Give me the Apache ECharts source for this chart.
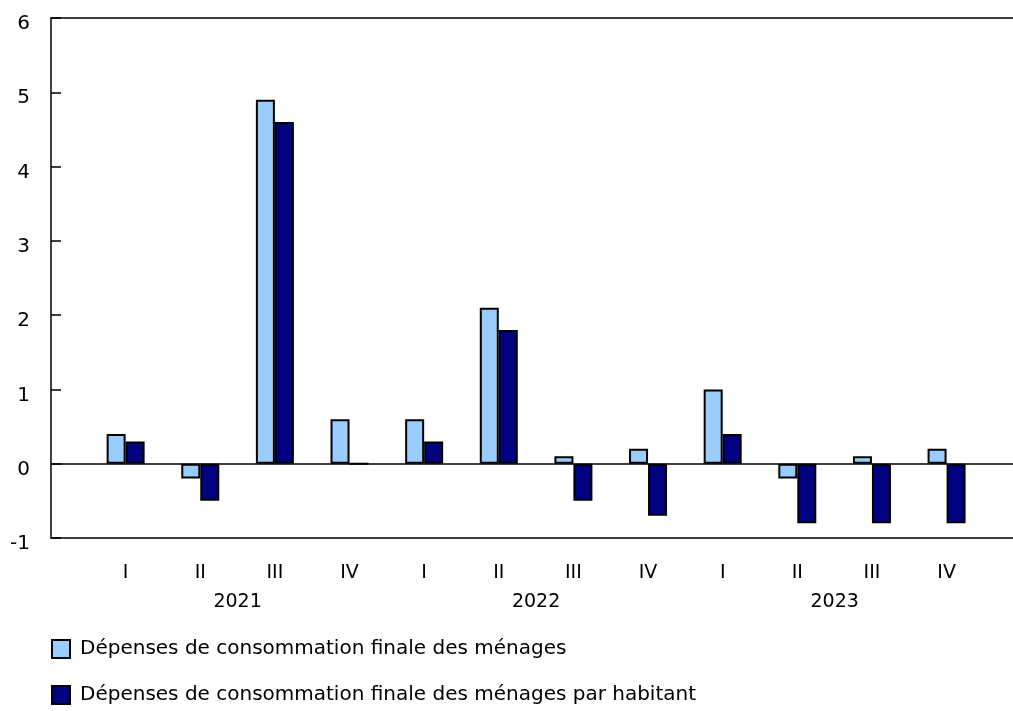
<!DOCTYPE html>
<html>
<head>
<meta charset="utf-8">
<script src="https://cdn.jsdelivr.net/npm/echarts@6/dist/echarts.min.js"></script>
<style>
  html, body { margin: 0; padding: 0; background: #ffffff; }
  #chart { width: 1013px; height: 711px; }
</style>
</head>
<body>
<div id="chart"></div>
<script>
const quarters = ["I", "II", "III", "IV", "I", "II", "III", "IV", "I", "II", "III", "IV"];
const years = ["2021", "2022", "2023"];
const yearPositions = [1.5, 5.5, 9.5];
const seriesNames = [
  "Dépenses de consommation finale des ménages",
  "Dépenses de consommation finale des ménages par habitant",
];
const menages = [0.4, -0.2, 4.9, 0.6, 0.6, 2.1, 0.1, 0.2, 1.0, -0.2, 0.1, 0.2];
const parHabitant = [0.3, -0.5, 4.6, 0.0, 0.3, 1.8, -0.5, -0.7, 0.4, -0.8, -0.8, -0.8];
const yTicks = [-1, 0, 1, 2, 3, 4, 5, 6];

const FONT = "DejaVu Sans";
const xMin = -1;
const xMax = 11.89;

function toPoints(values) {
  return values.map((v, i) => [i, v]);
}

// one legend per row, stacked like the original
function legendRow(name, top) {
  return {
    left: 51,
    top: top,
    padding: 0,
    itemWidth: 18,
    itemHeight: 18,
    itemGap: 0,
    icon: "rect",
    textStyle: { fontSize: 20, color: "#000", fontFamily: FONT, padding: [0, 0, 0, 5] },
    data: [name],
  };
}

const chart = echarts.init(document.getElementById("chart"));

chart.setOption({
  animation: false,
  textStyle: { fontFamily: FONT, color: "#000" },
  grid: { left: 51, right: 0, top: 18, bottom: 173 },
  legend: [legendRow(seriesNames[0], 639), legendRow(seriesNames[1], 685)],
  xAxis: [
    {
      type: "value",
      position: "bottom",
      min: xMin,
      max: xMax,
      interval: 1,
      axisLine: { show: true, onZero: false, lineStyle: { color: "#000", width: 1.5 } },
      axisTick: { show: false },
      splitLine: { show: false },
      axisLabel: {
        margin: 26,
        fontSize: 19,
        color: "#000",
        customValues: quarters.map((q, i) => i),
        formatter: (v) => quarters[Math.round(v)] || "",
      },
    },
    {
      type: "value",
      position: "bottom",
      offset: 29,
      min: xMin,
      max: xMax,
      axisLine: { show: false },
      axisTick: { show: false },
      splitLine: { show: false },
      axisLabel: {
        margin: 26,
        fontSize: 19,
        color: "#000",
        customValues: yearPositions,
        formatter: (v) => years[yearPositions.indexOf(v)] || "",
      },
    },
    {
      type: "value",
      position: "top",
      min: xMin,
      max: xMax,
      axisLine: { show: true, onZero: false, lineStyle: { color: "#000", width: 1.5 } },
      axisTick: { show: false },
      axisLabel: { show: false },
      splitLine: { show: false },
    },
  ],
  yAxis: {
    type: "value",
    min: yTicks[0],
    max: yTicks[yTicks.length - 1],
    interval: 1,
    axisLine: { show: true, onZero: false, lineStyle: { color: "#000", width: 1.5 } },
    axisTick: { show: true, inside: true, length: 10, lineStyle: { color: "#000", width: 1.5 } },
    splitLine: { show: false },
    axisLabel: { margin: 21, fontSize: 20, color: "#000", verticalAlign: "top", lineHeight: 12 },
  },
  series: [
    {
      name: seriesNames[0],
      type: "bar",
      xAxisIndex: 0,
      data: toPoints(menages),
      barWidth: 19,
      barGap: "0%",
      itemStyle: { color: "#99ccff", borderColor: "#000", borderWidth: 2 },
      markLine: {
        silent: true,
        symbol: "none",
        label: { show: false },
        lineStyle: { color: "#000", width: 1.5, type: "solid" },
        data: [{ yAxis: 0 }],
      },
    },
    {
      name: seriesNames[1],
      type: "bar",
      xAxisIndex: 0,
      data: toPoints(parHabitant),
      barWidth: 19,
      barGap: "0%",
      itemStyle: { color: "#000080", borderColor: "#000", borderWidth: 2 },
    },
  ],
});
</script>
</body>
</html>
